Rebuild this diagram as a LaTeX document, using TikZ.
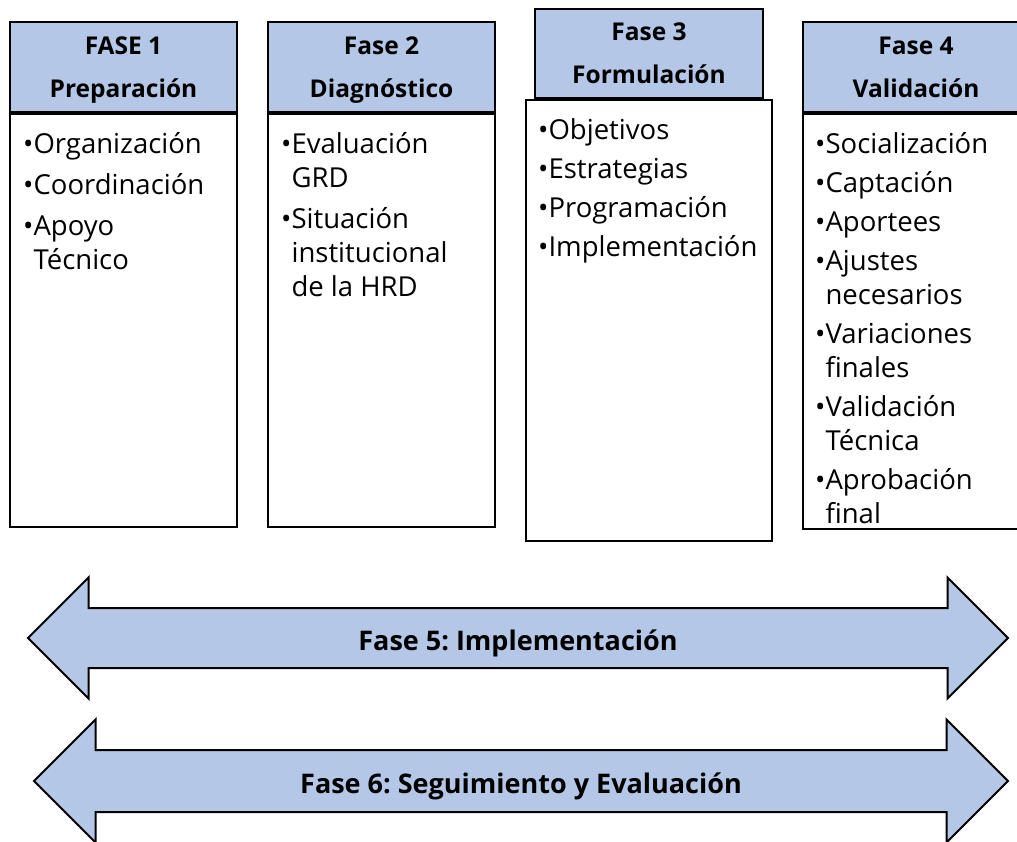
\documentclass[tikz,border=0pt]{standalone}
\usepackage{fontspec}
\setmainfont{Open Sans}
\usepackage{xcolor}
\usetikzlibrary{positioning,shapes.arrows}
\definecolor{faseblue}{HTML}{B4C7E7}
\newcommand{\ind}{\phantom{•}}
\frenchspacing
\tikzset{
  headbox/.style={draw=black,fill=faseblue,line width=2pt,align=center,
    font=\bfseries\fontsize{24.5}{43}\selectfont,inner sep=0pt,text depth=0pt},
  bodybox/.style={draw=black,fill=white,line width=2pt,inner sep=0pt},
  items/.style={align=left,inner sep=0pt,font=\fontsize{27.5}{34}\selectfont},
  phasearrow/.style={double arrow,draw=black,fill=faseblue,line width=2pt,
    double arrow head extend=30.5pt,double arrow tip angle=90,
    inner xsep=0pt,text height=25pt,text depth=0pt,
    font=\bfseries\fontsize{27}{30}\selectfont}
}
\begin{document}
\begin{tikzpicture}[x=1pt,y=-1pt]
    \useasboundingbox (0,0) rectangle (1017,841);
    \clip (0,0) rectangle (1017,841);
    \node[headbox,minimum width=227pt,minimum height=90pt] (h1) at (123.5,67) {FASE 1\\Preparación};
    \node[headbox,minimum width=227pt,minimum height=90pt] (h2) at (381.5,67) {Fase 2\\Diagnóstico};
    \node[headbox,minimum width=228pt,minimum height=89pt] (h3) at (649,53.5) {Fase 3\\Formulación};
    \node[headbox,minimum width=226pt,minimum height=90pt] (h4) at (916,67) {Fase 4\\Validación};

    \node[bodybox,below=0pt of h1,minimum width=227pt,minimum height=413pt] (b1) {};
    \node[bodybox,below=0pt of h2,minimum width=227pt,minimum height=413pt] (b2) {};
    \node[bodybox,below=0pt of h3,minimum width=246pt,minimum height=441pt] (b3) {};
    \node[bodybox,below=0pt of h4,minimum width=226pt,minimum height=415pt] (b4) {};
    \draw[line width=2pt] (h3.south west) -- (h3.south east);

    \node[items,below right=19pt and 14pt of b1.north west] (l1)
      {•Organización\\[7pt]•Coordinación\\[7pt]•Apoyo\\\ind Técnico};
    \node[items,below right=19pt and 14pt of b2.north west] (l2)
      {•Evaluación\\\ind GRD\\[7pt]•Situación\\\ind institucional\\\ind de la HRD};
    \node[items,below right=19pt and 13pt of b3.north west] (l3)
      {•Objetivos\\[5pt]•Estrategias\\[5pt]•Programación\\[5pt]•Implementación};
    \node[items,below right=19pt and 13pt of b4.north west] (l4)
      {•Socialización\\[5pt]•Captación\\[5pt]•Aportees\\[5pt]•Ajustes\\\ind necesarios\\[5pt]•Variaciones\\\ind finales\\[5pt]•Validación\\\ind Técnica\\[5pt]•Aprobación\\\ind final};

    \node[phasearrow,minimum height=980pt,minimum width=119pt,inner ysep=16.5pt] (f5) at (518,638) {Fase 5: Implementación};
    \node[phasearrow,minimum height=974pt,minimum width=121pt,inner ysep=17.5pt] (f6) at (521,781) {Fase 6: Seguimiento y Evaluación};
\end{tikzpicture}
\end{document}
